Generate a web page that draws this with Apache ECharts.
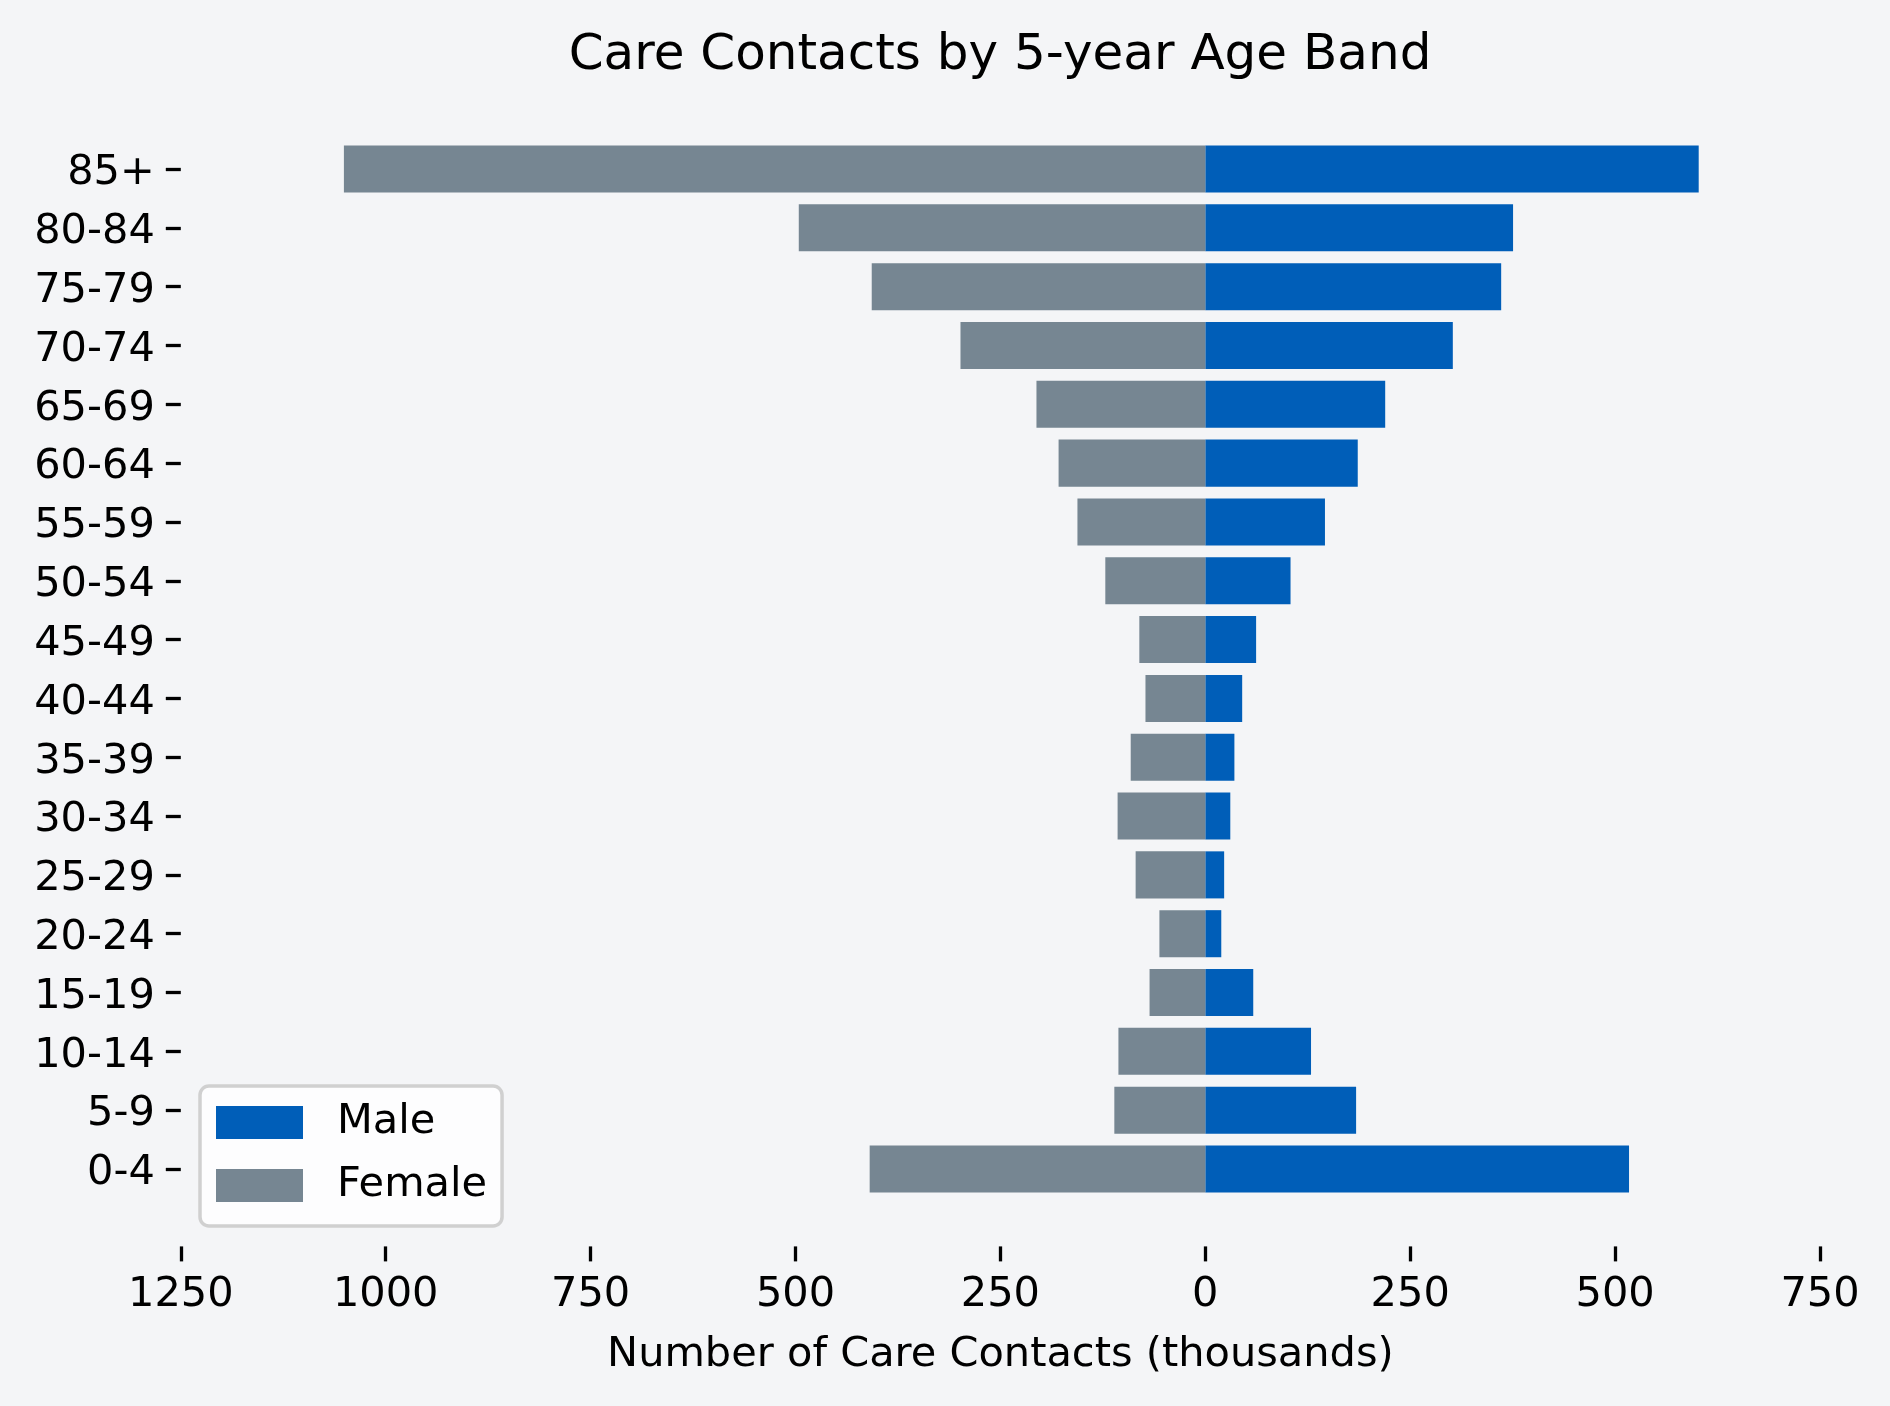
<!DOCTYPE html>
<html>
<head>
<meta charset="utf-8">
<script src="https://cdn.jsdelivr.net/npm/echarts@6/dist/echarts.min.js"></script>
<style>
html,body{margin:0;padding:0;background:#f4f5f7;}
#chart{width:1890px;height:1406px;}
</style>
</head>
<body>
<div id="chart"></div>
<script>
const categories = ['0-4','5-9','10-14','15-19','20-24','25-29','30-34','35-39','40-44','45-49','50-54','55-59','60-64','65-69','70-74','75-79','80-84','85+'];
const maleValues = [517, 184, 129, 58.5, 19.5, 23, 30.5, 35.5, 45, 62, 104, 146, 186, 219.5, 302, 361, 375.5, 602];
const femaleValues = [409.5, 111, 106, 68, 56, 85, 107, 91, 73, 80.5, 122, 156, 179, 206, 298.7, 407, 496, 1051];
const xTicks = [-1250, -1000, -750, -500, -250, 0, 250, 500, 750];

const FONT = 'DejaVu Sans';
const FS = 41.5;
const tickStyle = {color: '#000', width: 3.3};
const chart = echarts.init(document.getElementById('chart'));
chart.setOption({
  backgroundColor: '#f4f5f7',
  animation: false,
  title: {
    text: 'Care Contacts by 5-year Age Band',
    left: 995,
    textAlign: 'center',
    top: 26,
    textStyle: {fontFamily: FONT, fontSize: 50, fontWeight: 'normal', color: '#000'}
  },
  legend: {
    orient: 'vertical',
    left: 200,
    top: 1086,
    data: [{name: 'Male', icon: 'rect'}, {name: 'Female', icon: 'rect'}],
    itemWidth: 87,
    itemHeight: 33,
    itemGap: 21,
    padding: [15.5, 15, 19.5, 16],
    backgroundColor: 'rgba(255,255,255,0.8)',
    borderColor: '#d0d0d0',
    borderWidth: 3.5,
    borderRadius: 9,
    textStyle: {fontFamily: FONT, fontSize: FS, color: '#000', padding: [0, 0, 0, 29]}
  },
  grid: {left: 180.8, right: 70, top: 139.6, bottom: 207.6, containLabel: false},
  xAxis: {
    type: 'value',
    position: 'bottom',
    min: xTicks[0],
    max: xTicks[xTicks.length - 1],
    interval: 250,
    offset: 48,
    name: 'Number of Care Contacts (thousands)',
    nameLocation: 'middle',
    nameGap: 88,
    nameTextStyle: {fontFamily: FONT, fontSize: FS, color: '#000'},
    axisLine: {show: false, onZero: false},
    axisTick: {show: true, length: 15, lineStyle: tickStyle},
    splitLine: {show: false},
    axisLabel: {
      fontFamily: FONT, fontSize: FS, color: '#000', margin: 28,
      formatter: v => String(Math.abs(v))
    }
  },
  yAxis: [
    {
      type: 'category',
      data: categories,
      axisLine: {show: false, onZero: false},
      axisTick: {show: false},
      axisLabel: {
        interval: 0,
        margin: 26,
        formatter: v => '{a|' + v + '}',
        rich: {a: {fontFamily: FONT, fontSize: FS, color: '#000', padding: [9, 0, 0, 0]}}
      },
      splitLine: {show: false}
    },
    {
      type: 'value',
      position: 'left',
      min: -0.5,
      max: categories.length - 0.5,
      axisLine: {show: false, onZero: false},
      axisTick: {show: true, length: 15, lineStyle: tickStyle, customValues: categories.map((c, i) => i)},
      axisLabel: {show: false},
      splitLine: {show: false}
    }
  ],
  series: [
    {
      name: 'Male',
      type: 'bar',
      data: maleValues,
      barGap: '-100%',
      barCategoryGap: '20%',
      itemStyle: {color: '#005eb8'}
    },
    {
      name: 'Female',
      type: 'bar',
      data: femaleValues.map(v => -v),
      barGap: '-100%',
      barCategoryGap: '20%',
      itemStyle: {color: '#768692'}
    }
  ]
});
</script>
</body>
</html>
